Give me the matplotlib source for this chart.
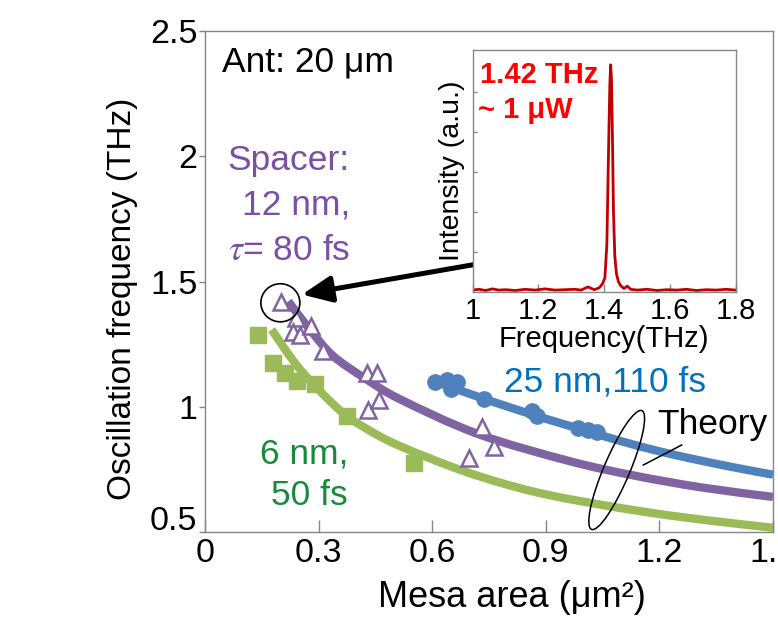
import matplotlib
matplotlib.use('Agg')
import matplotlib.pyplot as plt
from matplotlib.patches import Ellipse, PathPatch
from matplotlib.path import Path
from matplotlib.lines import Line2D
import matplotlib.transforms as mtransforms

plt.rcParams['font.family'] = ['Liberation Sans', 'DejaVu Sans']
plt.rcParams['mathtext.fontset'] = 'stix'

# ---------------- data ----------------
green_x = [0.141, 0.180, 0.211, 0.242, 0.290, 0.374, 0.552]
green_y = [1.288, 1.175, 1.135, 1.102, 1.089, 0.962, 0.777]

purple_x = [0.200, 0.239, 0.233, 0.251, 0.280, 0.311, 0.429, 0.455, 0.430, 0.460, 0.697, 0.731, 0.763]
purple_y = [1.420, 1.356, 1.297, 1.285, 1.321, 1.222, 1.135, 1.135, 0.986, 1.026, 0.797, 0.919, 0.841]

blue_x = [0.607, 0.639, 0.665, 0.650, 0.737, 0.864, 0.877, 0.985, 1.011, 1.035]
blue_y = [1.097, 1.107, 1.097, 1.069, 1.029, 0.985, 0.965, 0.915, 0.909, 0.901]

theory_green_x = [0.176, 0.251, 0.3565, 0.427, 0.515, 0.693, 0.871, 1.049, 1.2266, 1.405, 1.5]
theory_green_y = [1.308, 1.149, 0.985, 0.912, 0.843, 0.738, 0.660, 0.608, 0.566, 0.533, 0.517]

theory_purple_x = [0.22, 0.277, 0.339, 0.427, 0.515, 0.7196, 0.96, 1.138, 1.3155, 1.5]
theory_purple_y = [1.421, 1.308, 1.202, 1.109, 1.030, 0.892, 0.784, 0.724, 0.677, 0.640]

theory_blue_x = [0.60, 0.70, 0.80, 0.90, 1.00, 1.10, 1.20, 1.30, 1.40, 1.50]
theory_blue_y = [1.105, 1.051, 1.000, 0.952, 0.907, 0.862, 0.822, 0.788, 0.757, 0.729]

spec_f = [1.000, 1.02, 1.04, 1.06, 1.08, 1.10, 1.13, 1.16, 1.19, 1.22, 1.25, 1.28, 1.31,
          1.33, 1.35, 1.37, 1.385, 1.395, 1.402, 1.408, 1.413, 1.417, 1.4195, 1.422,
          1.425, 1.428, 1.432, 1.437, 1.443, 1.45, 1.46, 1.47, 1.48, 1.50, 1.53, 1.56,
          1.59, 1.62, 1.65, 1.68, 1.71, 1.74, 1.77, 1.80]
spec_i = [0.04, 0.06, 0.03, 0.07, 0.04, 0.05, 0.03, 0.06, 0.04, 0.07, 0.04, 0.05, 0.06,
          0.04, 0.12, 0.05, 0.10, 0.20, 0.35, 1.2, 3.5, 5.2, 5.67, 5.3,
          3.8, 2.0, 0.9, 0.45, 0.25, 0.15, 0.08, 0.14, 0.06, 0.04, 0.06, 0.03,
          0.05, 0.04, 0.06, 0.03, 0.05, 0.04, 0.06, 0.04]

x_ticks = [0, 0.3, 0.6, 0.9, 1.2, 1.5]
x_ticklabels = ['0', '0.3', '0.6', '0.9', '1.2', '1.5']
y_ticks = [0.5, 1, 1.5, 2, 2.5]
y_ticklabels = ['0.5', '1', '1.5', '2', '2.5']
in_x_ticks = [1, 1.2, 1.4, 1.6, 1.8]
in_x_ticklabels = ['1', '1.2', '1.4', '1.6', '1.8']
in_y_ticks = [1, 2, 3, 4, 5]

# ---------------- colours ----------------
C_GREEN = '#9BBB59'
C_PURPLE = '#8064A2'
C_BLUE = '#4F81BD'
T_GREEN = '#178A3C'
T_PURPLE = '#7C4FA7'
T_BLUE = '#0070C0'
SPINE = '#868686'

W, H = 778, 618
fig = plt.figure(figsize=(W / 100, H / 100), dpi=100)


def fx(px):
    return px / W


def fy(py):
    return 1 - py / H


def smooth_path(xs, ys):
    """Bezier path (Catmull-Rom tangents) passing through the read points."""
    pts = list(zip(xs, ys))
    n = len(pts)
    verts = [pts[0]]
    codes = [Path.MOVETO]
    for i in range(n - 1):
        p0 = pts[i - 1] if i > 0 else pts[i]
        p1 = pts[i]
        p2 = pts[i + 1]
        p3 = pts[i + 2] if i + 2 < n else pts[i + 1]
        c1 = (p1[0] + (p2[0] - p0[0]) / 6.0, p1[1] + (p2[1] - p0[1]) / 6.0)
        c2 = (p2[0] - (p3[0] - p1[0]) / 6.0, p2[1] - (p3[1] - p1[1]) / 6.0)
        verts += [c1, c2, p2]
        codes += [Path.CURVE4] * 3
    return Path(verts, codes)


ax = fig.add_axes([fx(205), fy(532), fx(773) - fx(205), fy(31) - fy(532)])
ax.set_xlim(0, 1.5)
ax.set_ylim(0.5, 2.5)

# theory curves
for tx, ty, col in [(theory_green_x, theory_green_y, C_GREEN),
                    (theory_purple_x, theory_purple_y, C_PURPLE),
                    (theory_blue_x, theory_blue_y, C_BLUE)]:
    ax.add_patch(PathPatch(smooth_path(tx, ty), fill=False, ec=col, lw=6,
                           capstyle='butt', joinstyle='round', zorder=2))

# data
ax.plot(green_x, green_y, 's', color=C_GREEN, ms=11, mec=C_GREEN, zorder=3)
ax.plot(blue_x, blue_y, 'o', color=C_BLUE, ms=11, mec=C_BLUE, zorder=3)
ax.plot(purple_x, purple_y, '^', mfc='white', mec=C_PURPLE, mew=1.8, ms=11, zorder=4)

for s in ax.spines.values():
    s.set_color(SPINE)
    s.set_linewidth(1.0)

ax.set_xticks(x_ticks)
ax.set_xticklabels(x_ticklabels)
ax.set_yticks(y_ticks)
ax.set_yticklabels(y_ticklabels)
ax.tick_params(axis='x', direction='in', length=9, width=1, color=SPINE, labelsize=24.5, pad=4)
ax.tick_params(axis='y', direction='out', length=4.5, width=1, color=SPINE, labelsize=24.5, pad=1)
lab05 = ax.get_yticklabels()[0]
lab05.set_transform(lab05.get_transform() + mtransforms.ScaledTranslation(0, 0.14, fig.dpi_scale_trans))

# axis labels
fig.text(fx(122), fy(299), 'Oscillation frequency (THz)', rotation=90, ha='center', va='center', fontsize=24)
fig.text(fx(512), fy(607), 'Mesa area (μm²)', ha='center', va='baseline', fontsize=26)

# annotations
fig.text(fx(222), fy(71.7), 'Ant: 20 μm', ha='left', va='baseline', fontsize=25.5, color='black')
fig.text(fx(350), fy(170), 'Spacer:', ha='right', va='baseline', fontsize=25.5, color=T_PURPLE)
fig.text(fx(350), fy(215), '12 nm,', ha='right', va='baseline', fontsize=25.5, color=T_PURPLE)
fig.text(fx(350), fy(260), r'$\tau$= 80 fs', ha='right', va='baseline', fontsize=25.5, color=T_PURPLE)
fig.text(fx(348), fy(463), '6 nm,', ha='right', va='baseline', fontsize=25.5, color=T_GREEN)
fig.text(fx(348), fy(505), '50 fs', ha='right', va='baseline', fontsize=25.5, color=T_GREEN)
fig.text(fx(504), fy(392), '25 nm,110 fs', ha='left', va='baseline', fontsize=25.5, color=T_BLUE)
fig.text(fx(657), fy(434), 'Theory', ha='left', va='baseline', fontsize=25.5, color='black')

# circle around first triangle
ax.add_patch(Ellipse((0.199, 1.415), 0.103, 0.152, fill=False, ec='black', lw=1.2, zorder=5))

# arrow from inset
ax.annotate('', xy=(0.256, 1.448), xytext=(0.72, 1.57),
            arrowprops=dict(arrowstyle='-|>,head_length=0.9,head_width=0.4', mutation_scale=20,
                            lw=3.6, color='black', shrinkA=0, shrinkB=0), zorder=5)

# Theory loop (drawn in inches on the figure)
fig.add_artist(Ellipse((6.167, (H - 470) / 100), 1.29, 0.26, angle=67, fill=False, ec='black', lw=1.1,
                       transform=fig.dpi_scale_trans))
fig.add_artist(Line2D([6.433, 6.817], [(H - 465) / 100, (H - 445) / 100], color='black', lw=1.1,
                      transform=fig.dpi_scale_trans))

# ---------------- inset ----------------
axi = fig.add_axes([fx(472.5), fy(291.7), fx(736) - fx(472.5), fy(50) - fy(291.7)])
axi.set_facecolor('white')
axi.plot(spec_f, spec_i, color='#C00000', lw=2.0)
axi.set_xlim(1, 1.8)
axi.set_ylim(0, 6.04)
axi.set_xticks(in_x_ticks)
axi.set_xticklabels(in_x_ticklabels)
axi.set_yticks(in_y_ticks)
axi.set_yticklabels([])
for s in axi.spines.values():
    s.set_color(SPINE)
    s.set_linewidth(1.0)
axi.tick_params(axis='x', direction='in', length=6, width=1, color=SPINE, labelsize=21, pad=4)
axi.tick_params(axis='y', direction='in', length=3, width=1, color=SPINE)
axi.set_xlabel('Frequency(THz)', fontsize=21, labelpad=0)
axi.set_ylabel('Intensity (a.u.)', fontsize=20.5, labelpad=2)
fig.text(fx(480), fy(83.3), '1.42 THz', ha='left', va='baseline', fontsize=21, color='#FF0000', fontweight='bold')
fig.text(fx(478), fy(118.3), '~ 1 μW', ha='left', va='baseline', fontsize=21, color='#FF0000', fontweight='bold')

fig.savefig('out.png', dpi=100)
